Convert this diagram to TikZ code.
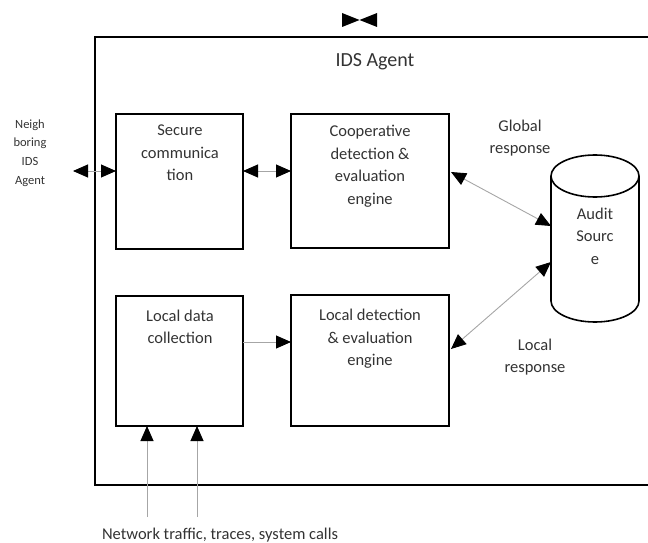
\documentclass[tikz,border=0pt]{standalone}
\usepackage{fontspec}
\setmainfont{Carlito}
\usetikzlibrary{arrows.meta}
\definecolor{txt}{HTML}{333333}
\tikzset{
  box/.style={draw=black, line width=1.8pt},
  lbl/.style={text=txt, align=center, inner sep=0pt, font=\fontsize{16.5}{22.5}\selectfont},
  smalllbl/.style={text=txt, align=center, inner sep=0pt, font=\fontsize{12.5}{18.7}\selectfont},
  conn/.style={draw=black!35, line width=0.9pt},
  tip/.tip={Triangle[length=15pt,width=13pt,color=black,fill=black]},
}
\begin{document}
\begin{tikzpicture}[x=1pt,y=-1pt]
\useasboundingbox (0,0) rectangle (648,543);
% outer agent frame (open to the right)
\coordinate (otr) at (649,37);
\coordinate (otl) at (95,37);
\coordinate (obl) at (95,485);
\coordinate (obr) at (649,485);
\draw[box] (otr) -- (otl) -- (obl) -- (obr);
\node[lbl, font=\fontsize{20}{24}\selectfont] (title) at (375,62) {IDS Agent};
% bowtie mark
\fill (342,13) -- (342,27) -- (359.5,20) -- cycle;
\fill (377,13) -- (377,27) -- (359.5,20) -- cycle;
% boxes
\draw[box] (116,114) rectangle (243,249);
\draw[box] (291,114) rectangle (449,248);
\draw[box] (116,296) rectangle (243,426);
\draw[box] (291,295) rectangle (449,426);
\coordinate (sc-l) at (116,171);
\coordinate (sc-r) at (243,171);
\coordinate (cd-l) at (291,171);
\coordinate (cd-r) at (451,172);
\coordinate (ld-r) at (243,342);
\coordinate (le-l) at (291,342);
\coordinate (le-r) at (451,349);
\coordinate (ld-b1) at (147,426);
\coordinate (ld-b2) at (197,426);
\node[lbl] (sc) at (180,153) {Secure\\communica\\tion};
\node[lbl] (cd) at (370,166) {Cooperative\\detection \&\\evaluation\\engine};
\node[lbl] (ld) at (180,327) {Local data\\collection};
\node[lbl] (le) at (370,339) {Local detection\\\& evaluation\\engine};
% cylinder
\draw[box, line width=1.6pt] (551,176) -- (551,301) arc[start angle=180, end angle=0, x radius=44, y radius=21] -- (639,176);
\draw[box, line width=1.6pt] (595,176) ellipse[x radius=44, y radius=21];
\node[lbl] (audit) at (595,236) {Audit\\Sourc\\e};
\coordinate (au-g) at (551,226);
\coordinate (au-l) at (551,262);
% neighbour
\node[smalllbl] (nb) at (30,153) {Neigh\\boring\\IDS\\Agent};
\coordinate (nb-r) at (73,171);
% response labels
\node[lbl] (gr) at (520,138) {Global\\response};
\node[lbl] (lr) at (535,357) {Local\\response};
% input
\node[lbl] (net) at (220,535) {Network traffic, traces, system calls};
\coordinate (in1) at (147,517);
\coordinate (in2) at (197,517);
% connectors
\draw[conn, tip-tip] (nb-r) -- (sc-l);
\draw[conn, tip-tip] (sc-r) -- (cd-l);
\draw[conn, tip-tip] (cd-r) -- (au-g);
\draw[conn, tip-tip] (le-r) -- (au-l);
\draw[conn, -tip] (ld-r) -- (le-l);
\draw[conn, -tip] (in1) -- (ld-b1);
\draw[conn, -tip] (in2) -- (ld-b2);
\end{tikzpicture}
\end{document}
